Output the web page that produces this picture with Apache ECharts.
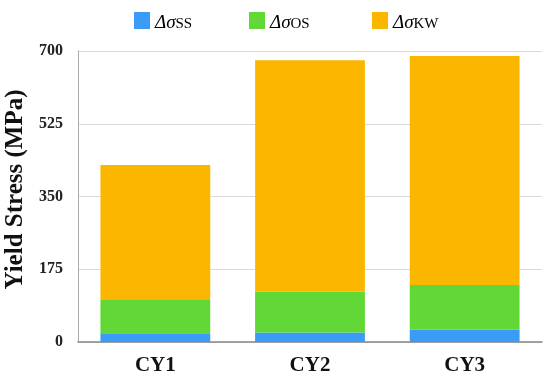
<!DOCTYPE html>
<html><head><meta charset="utf-8">
<script src="https://cdn.jsdelivr.net/npm/echarts@6/dist/echarts.min.js"></script>
<style>html,body{margin:0;padding:0;background:#fff}#c{width:550px;height:382px}</style>
</head><body><div id="c"></div>
<script>
const categories = ['CY1', 'CY2', 'CY3'];
const seriesNames = ['SS', 'OS', 'KW'];
const ssValues = [21, 23, 30];
const osValues = [82, 98, 107];
const kwValues = [323, 557, 551];
const yTicks = [0, 175, 350, 525, 700];
const colors = ['#3a9cf7', '#61d836', '#fbb700'];

const chart = echarts.init(document.getElementById('c'));
const serif = '"Liberation Serif", "DejaVu Serif", serif';
const valuesList = [ssValues, osValues, kwValues];
const legendLefts = [129, 244, 367];
chart.setOption({
  animation: false,
  color: colors,
  legend: seriesNames.map((n, i) => ({
    left: legendLefts[i], top: 7, itemWidth: 16, itemHeight: 17, itemGap: 8,
    icon: 'rect',
    data: [n],
    formatter: nm => '{d|Δσ}{s|' + nm + '}',
    textStyle: {
      padding: [0, 0, 0, 0],
      rich: {
        d: { fontFamily: serif, fontStyle: 'italic', fontSize: 19, color: '#000', verticalAlign: 'bottom' },
        s: { fontFamily: serif, fontSize: 15, color: '#000', verticalAlign: 'bottom', padding: [8, 0, 0, 0] }
      }
    }
  })),
  grid: { left: 78, right: 8, top: 51, bottom: 40, outerBoundsMode: 'none' },
  xAxis: {
    type: 'category', data: categories,
    axisLine: { lineStyle: { color: '#888', width: 1.5 } },
    axisTick: { show: false },
    axisLabel: { fontFamily: serif, fontWeight: 'bold', fontSize: 21, color: '#111', margin: 13 }
  },
  yAxis: {
    type: 'value', min: yTicks[0], max: yTicks[yTicks.length - 1], interval: 175,
    name: 'Yield Stress (MPa)', nameLocation: 'middle', nameGap: 46,
    nameTextStyle: { fontFamily: serif, fontWeight: 'bold', fontSize: 25, color: '#111', padding: [0, 0, 0, 14] },
    axisLine: { show: true, lineStyle: { color: '#aaa' } },
    axisTick: { show: false },
    axisLabel: { fontFamily: serif, fontWeight: 'bold', fontSize: 16, color: '#222', margin: 15 },
    splitLine: { lineStyle: { color: '#d9d9d9' } }
  },
  series: seriesNames.map((n, i) => ({
    name: n, type: 'bar', stack: 'total', data: valuesList[i], barWidth: '71%'
  }))
});
</script></body></html>
